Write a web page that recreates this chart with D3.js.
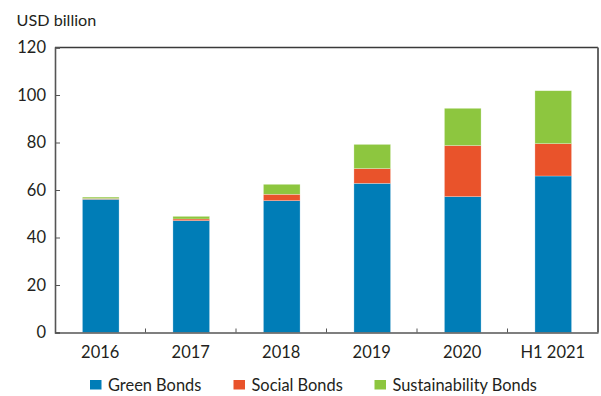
<!DOCTYPE html>
<html><head><meta charset="utf-8">
<script src="https://cdn.jsdelivr.net/npm/d3@7"></script>
<style>body{margin:0;background:#fff}svg{display:block}text{font-family:Lato,"Open Sans",sans-serif;fill:#231f20}</style>
</head><body><svg id="c" width="601" height="396"></svg>
<script>
const categories = ["2016","2017","2018","2019","2020","H1 2021"];
const greenBonds = [56.1, 47.1, 55.5, 62.8, 57.2, 65.9];
const socialBonds = [0.3, 0.7, 2.7, 6.2, 21.5, 13.6];
const sustainabilityBonds = [0.6, 1.1, 4.2, 10.2, 15.7, 22.3];
const yTicks = [0, 20, 40, 60, 80, 100, 120];
const seriesNames = ["Green Bonds","Social Bonds","Sustainability Bonds"];
const colors = ["#007db7","#e9532b","#8dc63f"];

const svg = d3.select("#c");
const L = 55, R = 598, T = 47.5, B = 332.5;
const x = d3.scaleBand().domain(categories).range([L, R]).paddingInner(0).paddingOuter(0);
const y = d3.scaleLinear().domain([0, 120]).range([B, T]);

const rows = categories.map((c, i) => ({cat: c, g: greenBonds[i], s: socialBonds[i], u: sustainabilityBonds[i]}));
const stack = d3.stack().keys(["g","s","u"])(rows);

const barW = x.bandwidth() * 0.405;
svg.append("g").selectAll("g").data(stack).join("g")
  .attr("fill", (d, i) => colors[i])
  .selectAll("rect").data(d => d).join("rect")
  .attr("x", d => x(d.data.cat) + (x.bandwidth() - barW) / 2 + 0.5)
  .attr("width", barW)
  .attr("y", d => y(d[1]))
  .attr("height", d => y(d[0]) - y(d[1]))
  .attr("stroke", "#ffffff").attr("stroke-opacity", 0.45).attr("stroke-width", 0.6);

// frame
svg.append("line").attr("x1", L).attr("x2", R).attr("y1", T).attr("y2", T).attr("stroke", "#3a3a3a").attr("stroke-width", 1.5);
svg.append("line").attr("x1", R).attr("x2", R).attr("y1", T).attr("y2", B).attr("stroke", "#666").attr("stroke-width", 2);

// y axis
const ya = svg.append("g").attr("transform", `translate(${L},0)`)
  .call(d3.axisLeft(y).tickValues(yTicks).tickSize(-5).tickPadding(9));
ya.select(".domain").attr("stroke", "#555").attr("stroke-width", 1.6);
ya.selectAll(".tick line").attr("stroke", "#555").attr("stroke-width", 1);
ya.selectAll(".tick text").attr("font-size", 16.5).attr("font-family", "Lato,sans-serif").attr("fill", "#231f20");

// x axis: ticks at band boundaries
const xa = svg.append("g").attr("transform", `translate(0,${B})`)
  .call(d3.axisBottom(x).tickSize(0).tickPadding(14));
xa.select(".domain").attr("stroke", "#555").attr("stroke-width", 1.6);
xa.selectAll(".tick text").attr("font-size", 16.5).attr("font-family", "Lato,sans-serif").attr("fill", "#231f20");
xa.selectAll(".bnd").data(categories.slice(1)).join("line").attr("class","bnd")
  .attr("x1", d => x(d)).attr("x2", d => x(d)).attr("y1", 0).attr("y2", -4)
  .attr("stroke", "#555").attr("stroke-width", 1);

svg.append("text").attr("x", 16.5).attr("y", 26).attr("font-size", 16.2).text("USD billion");

// legend
const legX = [90, 233.5, 374.5];
const lg = svg.append("g");
seriesNames.forEach((n, i) => {
  lg.append("rect").attr("x", legX[i]).attr("y", 380).attr("width", 11.5).attr("height", 9.5).attr("fill", colors[i]);
  lg.append("text").attr("x", legX[i] + 18).attr("y", 390.5).attr("font-size", 16.4).text(n);
});
</script></body></html>
